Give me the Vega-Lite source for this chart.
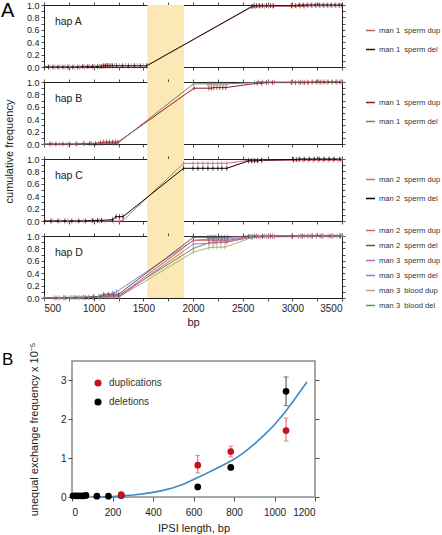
{
"$schema": "https://vega.github.io/schema/vega-lite/v6.json",
"background": "white",
"padding": {"left": 0, "top": 0, "right": 0, "bottom": 0},
"config": {
  "font": "Liberation Sans",
  "view": {"stroke": null},
  "axis": {"zindex": 1, "grid": false, "domain": false, "tickColor": "#222", "tickWidth": 0.8, "labelColor": "#222", "titleColor": "#222", "labelFont": "Liberation Sans", "titleFont": "Liberation Sans", "titleFontWeight": "normal"},
  "legend": {"labelFont": "Liberation Sans", "labelColor": "#333"},
  "title": {"font": "Liberation Sans", "fontWeight": "normal", "color": "#000"}
},
"datasets": {
  "hA": [
    {"s":"dup","x":505,"y":0},{"s":"dup","x":560,"y":0},{"s":"dup","x":610,"y":0},{"s":"dup","x":660,"y":0},{"s":"dup","x":710,"y":0},{"s":"dup","x":760,"y":0},{"s":"dup","x":810,"y":0},{"s":"dup","x":860,"y":0},{"s":"dup","x":910,"y":0},{"s":"dup","x":960,"y":0.01},{"s":"dup","x":1010,"y":0.01},{"s":"dup","x":1060,"y":0.01},{"s":"dup","x":1090,"y":0.01},{"s":"dup","x":1110,"y":0.01},{"s":"dup","x":1130,"y":0.02},{"s":"dup","x":1150,"y":0.02},{"s":"dup","x":1180,"y":0.02},{"s":"dup","x":1210,"y":0.02},{"s":"dup","x":1260,"y":0.02},{"s":"dup","x":1320,"y":0.02},{"s":"dup","x":1380,"y":0.02},{"s":"dup","x":1440,"y":0.02},{"s":"dup","x":1500,"y":0.02},{"s":"dup","x":1535,"y":0.02},{"s":"dup","x":2595,"y":0.97},{"s":"dup","x":2625,"y":0.97},{"s":"dup","x":2655,"y":0.98},{"s":"dup","x":2685,"y":0.98},{"s":"dup","x":2720,"y":0.98},{"s":"dup","x":2760,"y":0.98},{"s":"dup","x":2800,"y":0.98},{"s":"dup","x":3000,"y":0.98},{"s":"dup","x":3040,"y":0.98},{"s":"dup","x":3080,"y":0.98},{"s":"dup","x":3120,"y":0.98},{"s":"dup","x":3160,"y":0.99},{"s":"dup","x":3200,"y":0.99},{"s":"dup","x":3240,"y":0.99},{"s":"dup","x":3280,"y":0.99},{"s":"dup","x":3320,"y":0.99},{"s":"dup","x":3360,"y":0.99},{"s":"dup","x":3400,"y":0.99},{"s":"dup","x":3440,"y":0.99},{"s":"dup","x":3480,"y":0.99},
    {"s":"del","x":505,"y":0},{"s":"del","x":545,"y":0},{"s":"del","x":590,"y":0},{"s":"del","x":640,"y":0},{"s":"del","x":690,"y":0},{"s":"del","x":740,"y":0},{"s":"del","x":790,"y":0},{"s":"del","x":840,"y":0},{"s":"del","x":890,"y":0.01},{"s":"del","x":940,"y":0.01},{"s":"del","x":990,"y":0.01},{"s":"del","x":1040,"y":0.01},{"s":"del","x":1075,"y":0.01},{"s":"del","x":1100,"y":0.02},{"s":"del","x":1120,"y":0.02},{"s":"del","x":1140,"y":0.02},{"s":"del","x":1165,"y":0.02},{"s":"del","x":1190,"y":0.02},{"s":"del","x":1230,"y":0.02},{"s":"del","x":1290,"y":0.02},{"s":"del","x":1350,"y":0.02},{"s":"del","x":1410,"y":0.02},{"s":"del","x":1470,"y":0.02},{"s":"del","x":1535,"y":0.02},{"s":"del","x":2595,"y":0.98},{"s":"del","x":2615,"y":0.99},{"s":"del","x":2640,"y":0.99},{"s":"del","x":2670,"y":0.99},{"s":"del","x":2700,"y":0.99},{"s":"del","x":2740,"y":0.99},{"s":"del","x":2780,"y":0.99},{"s":"del","x":2810,"y":0.99},{"s":"del","x":2990,"y":0.99},{"s":"del","x":3030,"y":0.99},{"s":"del","x":3070,"y":1},{"s":"del","x":3110,"y":1},{"s":"del","x":3150,"y":1},{"s":"del","x":3190,"y":1},{"s":"del","x":3230,"y":1},{"s":"del","x":3270,"y":1},{"s":"del","x":3310,"y":1},{"s":"del","x":3350,"y":1},{"s":"del","x":3390,"y":1},{"s":"del","x":3430,"y":1},{"s":"del","x":3470,"y":1},{"s":"del","x":3500,"y":1}
  ],
  "hB": [
    {"s":"dup","x":505,"y":0},{"s":"dup","x":560,"y":0},{"s":"dup","x":620,"y":0},{"s":"dup","x":690,"y":0},{"s":"dup","x":760,"y":0},{"s":"dup","x":830,"y":0},{"s":"dup","x":900,"y":0.01},{"s":"dup","x":960,"y":0.01},{"s":"dup","x":1020,"y":0.01},{"s":"dup","x":1070,"y":0.02},{"s":"dup","x":1100,"y":0.03},{"s":"dup","x":1130,"y":0.03},{"s":"dup","x":1160,"y":0.03},{"s":"dup","x":1190,"y":0.03},{"s":"dup","x":1220,"y":0.03},{"s":"dup","x":1245,"y":0.03},{"s":"dup","x":2010,"y":0.9},{"s":"dup","x":2160,"y":0.9},{"s":"dup","x":2185,"y":0.9},{"s":"dup","x":2210,"y":0.91},{"s":"dup","x":2240,"y":0.91},{"s":"dup","x":2270,"y":0.91},{"s":"dup","x":2300,"y":0.91},{"s":"dup","x":2330,"y":0.91},{"s":"dup","x":2645,"y":0.98},{"s":"dup","x":2690,"y":0.98},{"s":"dup","x":2740,"y":0.99},{"s":"dup","x":2800,"y":0.99},{"s":"dup","x":2990,"y":0.99},{"s":"dup","x":3030,"y":0.99},{"s":"dup","x":3080,"y":0.99},{"s":"dup","x":3120,"y":0.99},{"s":"dup","x":3160,"y":0.99},{"s":"dup","x":3200,"y":1},{"s":"dup","x":3240,"y":1},{"s":"dup","x":3280,"y":1},{"s":"dup","x":3320,"y":1},{"s":"dup","x":3360,"y":1},{"s":"dup","x":3400,"y":1},{"s":"dup","x":3440,"y":1},{"s":"dup","x":3480,"y":1},
    {"s":"del","x":505,"y":0},{"s":"del","x":580,"y":0},{"s":"del","x":660,"y":0},{"s":"del","x":740,"y":0},{"s":"del","x":820,"y":0},{"s":"del","x":900,"y":0},{"s":"del","x":980,"y":0.01},{"s":"del","x":1050,"y":0.01},{"s":"del","x":1100,"y":0.01},{"s":"del","x":1150,"y":0.01},{"s":"del","x":1200,"y":0.01},{"s":"del","x":1240,"y":0.01},{"s":"del","x":2005,"y":0.97},{"s":"del","x":2150,"y":0.97},{"s":"del","x":2170,"y":0.97},{"s":"del","x":2190,"y":0.97},{"s":"del","x":2220,"y":0.97},{"s":"del","x":2250,"y":0.97},{"s":"del","x":2280,"y":0.97},{"s":"del","x":2310,"y":0.97},{"s":"del","x":2340,"y":0.97},{"s":"del","x":2620,"y":0.99},{"s":"del","x":2660,"y":1},{"s":"del","x":2700,"y":1},{"s":"del","x":2760,"y":1},{"s":"del","x":2820,"y":1},{"s":"del","x":3000,"y":1},{"s":"del","x":3060,"y":1},{"s":"del","x":3100,"y":1},{"s":"del","x":3150,"y":1},{"s":"del","x":3200,"y":1},{"s":"del","x":3260,"y":1},{"s":"del","x":3300,"y":1},{"s":"del","x":3350,"y":1},{"s":"del","x":3400,"y":1},{"s":"del","x":3450,"y":1},{"s":"del","x":3500,"y":1}
  ],
  "hC": [
    {"s":"dup","x":505,"y":0},{"s":"dup","x":580,"y":0},{"s":"dup","x":660,"y":0},{"s":"dup","x":740,"y":0},{"s":"dup","x":820,"y":0},{"s":"dup","x":900,"y":0},{"s":"dup","x":980,"y":0},{"s":"dup","x":1060,"y":0},{"s":"dup","x":1120,"y":0},{"s":"dup","x":1200,"y":0},{"s":"dup","x":1255,"y":0},{"s":"dup","x":1295,"y":0.01},{"s":"dup","x":1905,"y":0.93},{"s":"dup","x":2000,"y":0.93},{"s":"dup","x":2050,"y":0.93},{"s":"dup","x":2100,"y":0.93},{"s":"dup","x":2150,"y":0.93},{"s":"dup","x":2200,"y":0.93},{"s":"dup","x":2250,"y":0.93},{"s":"dup","x":2290,"y":0.93},{"s":"dup","x":2340,"y":0.93},{"s":"dup","x":2560,"y":0.98},{"s":"dup","x":2600,"y":0.98},{"s":"dup","x":2650,"y":0.98},{"s":"dup","x":2700,"y":0.98},{"s":"dup","x":3010,"y":0.98},{"s":"dup","x":3060,"y":0.98},{"s":"dup","x":3110,"y":0.98},{"s":"dup","x":3160,"y":0.98},{"s":"dup","x":3210,"y":0.98},{"s":"dup","x":3260,"y":0.98},{"s":"dup","x":3310,"y":0.98},{"s":"dup","x":3360,"y":0.98},{"s":"dup","x":3410,"y":0.98},{"s":"dup","x":3460,"y":0.98},{"s":"dup","x":3500,"y":0.98},
    {"s":"del","x":505,"y":0},{"s":"del","x":570,"y":0},{"s":"del","x":640,"y":0},{"s":"del","x":710,"y":0},{"s":"del","x":780,"y":0},{"s":"del","x":850,"y":0},{"s":"del","x":920,"y":0},{"s":"del","x":990,"y":0.01},{"s":"del","x":1040,"y":0.01},{"s":"del","x":1080,"y":0.01},{"s":"del","x":1190,"y":0.02},{"s":"del","x":1225,"y":0.07},{"s":"del","x":1260,"y":0.07},{"s":"del","x":1295,"y":0.07},{"s":"del","x":1905,"y":0.85},{"s":"del","x":2000,"y":0.85},{"s":"del","x":2050,"y":0.85},{"s":"del","x":2100,"y":0.85},{"s":"del","x":2150,"y":0.85},{"s":"del","x":2200,"y":0.85},{"s":"del","x":2250,"y":0.85},{"s":"del","x":2290,"y":0.85},{"s":"del","x":2340,"y":0.85},{"s":"del","x":2560,"y":0.97},{"s":"del","x":2590,"y":0.97},{"s":"del","x":2620,"y":0.97},{"s":"del","x":2650,"y":0.97},{"s":"del","x":2690,"y":0.98},{"s":"del","x":3010,"y":0.99},{"s":"del","x":3040,"y":0.99},{"s":"del","x":3070,"y":1},{"s":"del","x":3120,"y":1},{"s":"del","x":3170,"y":1},{"s":"del","x":3220,"y":1},{"s":"del","x":3270,"y":1},{"s":"del","x":3320,"y":1},{"s":"del","x":3370,"y":1},{"s":"del","x":3420,"y":1},{"s":"del","x":3480,"y":1}
  ],
  "hD": [
    {"s":"m3bdup","x":505,"y":0},{"s":"m3bdup","x":700,"y":0},{"s":"m3bdup","x":850,"y":0},{"s":"m3bdup","x":950,"y":0.01},{"s":"m3bdup","x":1050,"y":0.01},{"s":"m3bdup","x":1120,"y":0.01},{"s":"m3bdup","x":1180,"y":0.02},{"s":"m3bdup","x":1260,"y":0.02},{"s":"m3bdup","x":2004,"y":0.74},{"s":"m3bdup","x":2160,"y":0.81},{"s":"m3bdup","x":2200,"y":0.82},{"s":"m3bdup","x":2240,"y":0.82},{"s":"m3bdup","x":2280,"y":0.82},{"s":"m3bdup","x":2320,"y":0.82},{"s":"m3bdup","x":2600,"y":0.98},{"s":"m3bdup","x":2680,"y":0.98},{"s":"m3bdup","x":2760,"y":0.99},{"s":"m3bdup","x":3000,"y":0.99},{"s":"m3bdup","x":3100,"y":0.99},{"s":"m3bdup","x":3200,"y":1},{"s":"m3bdup","x":3300,"y":1},{"s":"m3bdup","x":3400,"y":1},{"s":"m3bdup","x":3500,"y":1},
    {"s":"m3bdel","x":505,"y":0},{"s":"m3bdel","x":700,"y":0},{"s":"m3bdel","x":850,"y":0.01},{"s":"m3bdel","x":950,"y":0.01},{"s":"m3bdel","x":1050,"y":0.02},{"s":"m3bdel","x":1120,"y":0.03},{"s":"m3bdel","x":1180,"y":0.04},{"s":"m3bdel","x":1250,"y":0.04},{"s":"m3bdel","x":2004,"y":0.8},{"s":"m3bdel","x":2160,"y":0.89},{"s":"m3bdel","x":2220,"y":0.9},{"s":"m3bdel","x":2280,"y":0.9},{"s":"m3bdel","x":2340,"y":0.9},{"s":"m3bdel","x":2600,"y":0.99},{"s":"m3bdel","x":2700,"y":0.99},{"s":"m3bdel","x":2800,"y":1},{"s":"m3bdel","x":3000,"y":1},{"s":"m3bdel","x":3150,"y":1},{"s":"m3bdel","x":3300,"y":1},{"s":"m3bdel","x":3450,"y":1},
    {"s":"m3dup","x":505,"y":0},{"s":"m3dup","x":640,"y":0},{"s":"m3dup","x":760,"y":0.01},{"s":"m3dup","x":880,"y":0.01},{"s":"m3dup","x":1000,"y":0.01},{"s":"m3dup","x":1080,"y":0.02},{"s":"m3dup","x":1140,"y":0.02},{"s":"m3dup","x":1200,"y":0.02},{"s":"m3dup","x":1260,"y":0.02},{"s":"m3dup","x":2004,"y":0.87},{"s":"m3dup","x":2160,"y":0.88},{"s":"m3dup","x":2200,"y":0.89},{"s":"m3dup","x":2240,"y":0.89},{"s":"m3dup","x":2280,"y":0.9},{"s":"m3dup","x":2320,"y":0.9},{"s":"m3dup","x":2590,"y":0.98},{"s":"m3dup","x":2660,"y":0.99},{"s":"m3dup","x":2740,"y":0.99},{"s":"m3dup","x":2800,"y":0.99},{"s":"m3dup","x":3000,"y":0.99},{"s":"m3dup","x":3080,"y":1},{"s":"m3dup","x":3160,"y":1},{"s":"m3dup","x":3240,"y":1},{"s":"m3dup","x":3320,"y":1},{"s":"m3dup","x":3400,"y":1},{"s":"m3dup","x":3480,"y":1},
    {"s":"m3del","x":505,"y":0},{"s":"m3del","x":660,"y":0},{"s":"m3del","x":780,"y":0.01},{"s":"m3del","x":900,"y":0.01},{"s":"m3del","x":1000,"y":0.02},{"s":"m3del","x":1080,"y":0.03},{"s":"m3del","x":1140,"y":0.05},{"s":"m3del","x":1190,"y":0.08},{"s":"m3del","x":1230,"y":0.1},{"s":"m3del","x":2004,"y":0.93},{"s":"m3del","x":2160,"y":0.95},{"s":"m3del","x":2200,"y":0.95},{"s":"m3del","x":2250,"y":0.95},{"s":"m3del","x":2300,"y":0.95},{"s":"m3del","x":2340,"y":0.95},{"s":"m3del","x":2580,"y":0.99},{"s":"m3del","x":2640,"y":1},{"s":"m3del","x":2720,"y":1},{"s":"m3del","x":2800,"y":1},{"s":"m3del","x":3000,"y":1},{"s":"m3del","x":3100,"y":1},{"s":"m3del","x":3200,"y":1},{"s":"m3del","x":3300,"y":1},{"s":"m3del","x":3400,"y":1},{"s":"m3del","x":3500,"y":1},
    {"s":"m2dup","x":505,"y":0},{"s":"m2dup","x":600,"y":0},{"s":"m2dup","x":700,"y":0.01},{"s":"m2dup","x":800,"y":0.01},{"s":"m2dup","x":900,"y":0.01},{"s":"m2dup","x":990,"y":0.01},{"s":"m2dup","x":1060,"y":0.02},{"s":"m2dup","x":1110,"y":0.03},{"s":"m2dup","x":1160,"y":0.03},{"s":"m2dup","x":1210,"y":0.03},{"s":"m2dup","x":1255,"y":0.03},{"s":"m2dup","x":2004,"y":0.93},{"s":"m2dup","x":2160,"y":0.93},{"s":"m2dup","x":2200,"y":0.93},{"s":"m2dup","x":2240,"y":0.93},{"s":"m2dup","x":2280,"y":0.93},{"s":"m2dup","x":2320,"y":0.93},{"s":"m2dup","x":2350,"y":0.93},{"s":"m2dup","x":2590,"y":0.99},{"s":"m2dup","x":2640,"y":0.99},{"s":"m2dup","x":2700,"y":0.99},{"s":"m2dup","x":2760,"y":0.99},{"s":"m2dup","x":2820,"y":0.99},{"s":"m2dup","x":3000,"y":0.99},{"s":"m2dup","x":3060,"y":0.99},{"s":"m2dup","x":3120,"y":1},{"s":"m2dup","x":3180,"y":1},{"s":"m2dup","x":3240,"y":1},{"s":"m2dup","x":3300,"y":1},{"s":"m2dup","x":3360,"y":1},{"s":"m2dup","x":3420,"y":1},{"s":"m2dup","x":3480,"y":1},
    {"s":"m2del","x":505,"y":0},{"s":"m2del","x":620,"y":0},{"s":"m2del","x":720,"y":0},{"s":"m2del","x":820,"y":0.01},{"s":"m2del","x":920,"y":0.01},{"s":"m2del","x":1000,"y":0.02},{"s":"m2del","x":1070,"y":0.02},{"s":"m2del","x":1100,"y":0.06},{"s":"m2del","x":1150,"y":0.06},{"s":"m2del","x":1200,"y":0.06},{"s":"m2del","x":1250,"y":0.06},{"s":"m2del","x":2004,"y":0.98},{"s":"m2del","x":2150,"y":0.98},{"s":"m2del","x":2170,"y":0.98},{"s":"m2del","x":2190,"y":0.98},{"s":"m2del","x":2210,"y":0.98},{"s":"m2del","x":2230,"y":0.98},{"s":"m2del","x":2260,"y":0.98},{"s":"m2del","x":2290,"y":0.98},{"s":"m2del","x":2320,"y":0.98},{"s":"m2del","x":2350,"y":0.98},{"s":"m2del","x":2560,"y":1},{"s":"m2del","x":2620,"y":1},{"s":"m2del","x":2700,"y":1},{"s":"m2del","x":2780,"y":1},{"s":"m2del","x":3000,"y":1},{"s":"m2del","x":3100,"y":1},{"s":"m2del","x":3200,"y":1},{"s":"m2del","x":3280,"y":1},{"s":"m2del","x":3380,"y":1},{"s":"m2del","x":3480,"y":1}
  ],
  "ipsi": [
    {"type":"deletions","len":5,"f":0.03},{"type":"deletions","len":18,"f":0.03},{"type":"deletions","len":30,"f":0.03},{"type":"deletions","len":45,"f":0.03},{"type":"deletions","len":58,"f":0.03},{"type":"deletions","len":69,"f":0.04},{"type":"deletions","len":123,"f":0.02},{"type":"deletions","len":180,"f":0.02},{"type":"deletions","len":243,"f":0.04},{"type":"deletions","len":621,"f":0.26},{"type":"deletions","len":784,"f":0.76},{"type":"deletions","len":1057,"f":2.72,"lo":2.35,"hi":3.09},
    {"type":"duplications","len":243,"f":0.06},{"type":"duplications","len":621,"f":0.82,"lo":0.62,"hi":1.07},{"type":"duplications","len":784,"f":1.17,"lo":1.03,"hi":1.31},{"type":"duplications","len":1057,"f":1.71,"lo":1.44,"hi":2.03}
  ],
  "curve": [
    {"len":100,"f":0},{"len":150,"f":0},{"len":200,"f":0.01},{"len":250,"f":0.03},{"len":300,"f":0.05},{"len":350,"f":0.08},{"len":400,"f":0.12},{"len":450,"f":0.17},{"len":500,"f":0.24},{"len":550,"f":0.33},{"len":600,"f":0.45},{"len":650,"f":0.57},{"len":700,"f":0.7},{"len":750,"f":0.83},{"len":800,"f":0.97},{"len":850,"f":1.15},{"len":900,"f":1.36},{"len":950,"f":1.6},{"len":1000,"f":1.86},{"len":1050,"f":2.17},{"len":1100,"f":2.52},{"len":1160,"f":2.96}
  ]
},
"spacing": 13,
"resolve": {"scale": {"color": "independent"}, "legend": {"color": "independent"}},
"vconcat": [
 {"spacing": 0, "resolve": {"scale": {"color": "independent"}, "legend": {"color": "independent"}}, "hconcat": [
  {"width": 1, "height": 1, "data": {"values": [{}]}, "mark": {"type": "point", "opacity": 0, "size": 0, "strokeWidth": 0}},
  {"title": {"text": "A", "anchor": "start", "frame": "group", "fontSize": 20, "offset": -20, "dx": -43},
   "spacing": 15, "bounds": "flush",
   "resolve": {"scale": {"color": "independent"}, "legend": {"color": "independent"}},
   "vconcat": [
    {"width": 298, "height": 62, "view": {"stroke": "#222", "strokeWidth": 1},
     "resolve": {"axis": {"x": "independent", "y": "independent"}},
     "layer": [
      {"data": {"values": [{"lab": "hap A"}]}, "mark": {"type": "rect", "color": "#fbe8b5", "clip": false},
       "encoding": {
        "x": {"datum": 1540, "type": "quantitative", "scale": {"domain": [500, 3500], "nice": false, "zero": false}, "axis": {"orient": "bottom", "values": [500,750,1000,1250,1500,1750,2000,2250,2500,2750,3000,3250,3500], "labels": false, "tickSize": 3, "title": null}},
        "x2": {"datum": 1910},
        "y": {"datum": 1, "type": "quantitative", "scale": {"domain": [0, 1], "nice": false}, "axis": {"orient": "left", "values": [0,0.1,0.2,0.3,0.4,0.5,0.6,0.7,0.8,0.9,1], "format": ".1f", "labelExpr": "round(datum.value*10) % 2 == 0 ? datum.label : ''", "labelOverlap": false, "labelFontSize": 9, "labelPadding": 2, "tickSize": 3, "title": null}},
        "y2": {"datum": -0.24}
       }},
      {"data": {"name": "hA"}, "mark": {"type": "line", "strokeWidth": 1},
       "encoding": {
        "x": {"field": "x", "type": "quantitative", "axis": {"orient": "top", "values": [500,750,1000,1250,1500,1750,2000,2250,2500,2750,3000,3250,3500], "labels": false, "tickSize": 3, "title": null}},
        "y": {"field": "y", "type": "quantitative", "axis": {"orient": "right", "values": [0,0.1,0.2,0.3,0.4,0.5,0.6,0.7,0.8,0.9,1], "labels": false, "tickSize": 3, "title": null}},
        "color": {"field": "s", "type": "nominal", "scale": {"domain": ["dup", "del"], "range": ["#c65b66", "#1a1a1a"]},
          "legend": {"orient": "none", "legendX": 321, "legendY": 20, "title": null, "symbolType": "stroke", "symbolSize": 81, "symbolStrokeWidth": 1.5, "labelFontSize": 7.6, "labelOffset": 3, "rowPadding": 9, "padding": 0,
            "labelExpr": "datum.label == 'dup' ? 'man 1\u00a0 sperm dup' : 'man 1\u00a0 sperm del'"}}
       }},
      {"data": {"name": "hA"}, "mark": {"type": "point", "shape": "M-0.4,0L0.4,0M0,-1L0,1", "size": 24, "filled": false, "strokeWidth": 0.7, "opacity": 1},
       "encoding": {"x": {"field": "x", "type": "quantitative", "axis": null}, "y": {"field": "y", "type": "quantitative", "axis": null}, "color": {"field": "s", "type": "nominal"}}},
      {"data": {"values": [{"lab": "hap A"}]}, "mark": {"type": "text", "align": "left", "baseline": "middle", "fontSize": 10.5, "color": "#222"},
       "encoding": {"x": {"datum": 610, "type": "quantitative", "axis": null}, "y": {"datum": 0.73, "type": "quantitative", "axis": null}, "text": {"field": "lab"}}}
     ]},
    {"width": 298, "height": 62, "view": {"stroke": "#222", "strokeWidth": 1},
     "resolve": {"axis": {"x": "independent", "y": "independent"}},
     "layer": [
      {"data": {"values": [{"lab": "hap B"}]}, "mark": {"type": "rect", "color": "#fbe8b5", "clip": false},
       "encoding": {
        "x": {"datum": 1540, "type": "quantitative", "scale": {"domain": [500, 3500], "nice": false, "zero": false}, "axis": {"orient": "bottom", "values": [500,750,1000,1250,1500,1750,2000,2250,2500,2750,3000,3250,3500], "labels": false, "tickSize": 3, "title": null}},
        "x2": {"datum": 1910},
        "y": {"datum": 1, "type": "quantitative", "scale": {"domain": [0, 1], "nice": false}, "axis": {"orient": "left", "values": [0,0.1,0.2,0.3,0.4,0.5,0.6,0.7,0.8,0.9,1], "format": ".1f", "labelExpr": "round(datum.value*10) % 2 == 0 ? datum.label : ''", "labelOverlap": false, "labelFontSize": 9, "labelPadding": 2, "tickSize": 3, "title": "cumulative frequency", "titleFontSize": 11, "titlePadding": 12, "titleY": 69}},
        "y2": {"datum": -0.24}
       }},
      {"data": {"name": "hB"}, "mark": {"type": "line", "strokeWidth": 1},
       "encoding": {
        "x": {"field": "x", "type": "quantitative", "axis": {"orient": "top", "values": [500,750,1000,1250,1500,1750,2000,2250,2500,2750,3000,3250,3500], "labels": false, "tickSize": 3, "title": null}},
        "y": {"field": "y", "type": "quantitative", "axis": {"orient": "right", "values": [0,0.1,0.2,0.3,0.4,0.5,0.6,0.7,0.8,0.9,1], "labels": false, "tickSize": 3, "title": null}},
        "color": {"field": "s", "type": "nominal", "scale": {"domain": ["dup", "del"], "range": ["#9b1422", "#7a7a7a"]},
          "legend": {"orient": "none", "legendX": 321, "legendY": 15, "title": null, "symbolType": "stroke", "symbolSize": 81, "symbolStrokeWidth": 1.5, "labelFontSize": 7.6, "labelOffset": 3, "rowPadding": 9, "padding": 0,
            "labelExpr": "datum.label == 'dup' ? 'man 1\u00a0 sperm dup' : 'man 1\u00a0 sperm del'"}}
       }},
      {"data": {"name": "hB"}, "mark": {"type": "point", "shape": "M-0.4,0L0.4,0M0,-1L0,1", "size": 24, "filled": false, "strokeWidth": 0.7, "opacity": 1},
       "encoding": {"x": {"field": "x", "type": "quantitative", "axis": null}, "y": {"field": "y", "type": "quantitative", "axis": null}, "color": {"field": "s", "type": "nominal"}}},
      {"data": {"values": [{"lab": "hap B"}]}, "mark": {"type": "text", "align": "left", "baseline": "middle", "fontSize": 10.5, "color": "#222"},
       "encoding": {"x": {"datum": 610, "type": "quantitative", "axis": null}, "y": {"datum": 0.73, "type": "quantitative", "axis": null}, "text": {"field": "lab"}}}
     ]},
    {"width": 298, "height": 62, "view": {"stroke": "#222", "strokeWidth": 1},
     "resolve": {"axis": {"x": "independent", "y": "independent"}},
     "layer": [
      {"data": {"values": [{"lab": "hap C"}]}, "mark": {"type": "rect", "color": "#fbe8b5", "clip": false},
       "encoding": {
        "x": {"datum": 1540, "type": "quantitative", "scale": {"domain": [500, 3500], "nice": false, "zero": false}, "axis": {"orient": "bottom", "values": [500,750,1000,1250,1500,1750,2000,2250,2500,2750,3000,3250,3500], "labels": false, "tickSize": 3, "title": null}},
        "x2": {"datum": 1910},
        "y": {"datum": 1, "type": "quantitative", "scale": {"domain": [0, 1], "nice": false}, "axis": {"orient": "left", "values": [0,0.1,0.2,0.3,0.4,0.5,0.6,0.7,0.8,0.9,1], "format": ".1f", "labelExpr": "round(datum.value*10) % 2 == 0 ? datum.label : ''", "labelOverlap": false, "labelFontSize": 9, "labelPadding": 2, "tickSize": 3, "title": null}},
        "y2": {"datum": -0.24}
       }},
      {"data": {"name": "hC"}, "mark": {"type": "line", "strokeWidth": 1},
       "encoding": {
        "x": {"field": "x", "type": "quantitative", "axis": {"orient": "top", "values": [500,750,1000,1250,1500,1750,2000,2250,2500,2750,3000,3250,3500], "labels": false, "tickSize": 3, "title": null}},
        "y": {"field": "y", "type": "quantitative", "axis": {"orient": "right", "values": [0,0.1,0.2,0.3,0.4,0.5,0.6,0.7,0.8,0.9,1], "labels": false, "tickSize": 3, "title": null}},
        "color": {"field": "s", "type": "nominal", "scale": {"domain": ["dup", "del"], "range": ["#dc6a78", "#000000"]},
          "legend": {"orient": "none", "legendX": 321, "legendY": 15, "title": null, "symbolType": "stroke", "symbolSize": 81, "symbolStrokeWidth": 1.5, "labelFontSize": 7.6, "labelOffset": 3, "rowPadding": 9, "padding": 0,
            "labelExpr": "datum.label == 'dup' ? 'man 2\u00a0 sperm dup' : 'man 2\u00a0 sperm del'"}}
       }},
      {"data": {"name": "hC"}, "mark": {"type": "point", "shape": "M-0.4,0L0.4,0M0,-1L0,1", "size": 24, "filled": false, "strokeWidth": 0.7, "opacity": 1},
       "encoding": {"x": {"field": "x", "type": "quantitative", "axis": null}, "y": {"field": "y", "type": "quantitative", "axis": null}, "color": {"field": "s", "type": "nominal"}}},
      {"data": {"values": [{"lab": "hap C"}]}, "mark": {"type": "text", "align": "left", "baseline": "middle", "fontSize": 10.5, "color": "#222"},
       "encoding": {"x": {"datum": 610, "type": "quantitative", "axis": null}, "y": {"datum": 0.73, "type": "quantitative", "axis": null}, "text": {"field": "lab"}}}
     ]},
    {"width": 298, "height": 62, "view": {"stroke": "#222", "strokeWidth": 1},
     "resolve": {"axis": {"x": "independent", "y": "independent"}},
     "layer": [
      {"data": {"values": [{"lab": "hap D"}]}, "mark": {"type": "rect", "color": "#fbe8b5", "clip": false},
       "encoding": {
        "x": {"datum": 1540, "type": "quantitative", "scale": {"domain": [500, 3500], "nice": false, "zero": false}, "axis": {"orient": "bottom", "values": [500,750,1000,1250,1500,1750,2000,2250,2500,2750,3000,3250,3500], "format": "d", "labelExpr": "datum.value % 500 == 0 ? datum.label : ''", "labelOverlap": false, "labelFontSize": 10, "labelPadding": 2, "tickSize": 3, "title": "bp", "titleFontSize": 11, "titlePadding": 3}},
        "x2": {"datum": 1910},
        "y": {"datum": 1, "type": "quantitative", "scale": {"domain": [0, 1], "nice": false}, "axis": {"orient": "left", "values": [0,0.1,0.2,0.3,0.4,0.5,0.6,0.7,0.8,0.9,1], "format": ".1f", "labelExpr": "round(datum.value*10) % 2 == 0 ? datum.label : ''", "labelOverlap": false, "labelFontSize": 9, "labelPadding": 2, "tickSize": 3, "title": null}},
        "y2": {"datum": 0}
       }},
      {"data": {"name": "hD"}, "mark": {"type": "line", "strokeWidth": 1},
       "encoding": {
        "x": {"field": "x", "type": "quantitative", "axis": {"orient": "top", "values": [500,750,1000,1250,1500,1750,2000,2250,2500,2750,3000,3250,3500], "labels": false, "tickSize": 3, "title": null}},
        "y": {"field": "y", "type": "quantitative", "axis": {"orient": "right", "values": [0,0.1,0.2,0.3,0.4,0.5,0.6,0.7,0.8,0.9,1], "labels": false, "tickSize": 3, "title": null}},
        "color": {"field": "s", "type": "nominal", "scale": {"domain": ["m2dup", "m2del", "m3dup", "m3del", "m3bdup", "m3bdel"], "range": ["#d0606e", "#555555", "#c467ae", "#8585c8", "#b3ab78", "#55937a"]},
          "legend": {"orient": "none", "legendX": 321, "legendY": -11, "title": null, "symbolType": "stroke", "symbolSize": 81, "symbolStrokeWidth": 1.5, "labelFontSize": 7.6, "labelOffset": 3, "rowPadding": 5, "padding": 0,
            "labelExpr": "datum.label == 'm2dup' ? 'man 2\u00a0 sperm dup' : datum.label == 'm2del' ? 'man 2\u00a0 sperm del' : datum.label == 'm3dup' ? 'man 3\u00a0 sperm dup' : datum.label == 'm3del' ? 'man 3\u00a0 sperm del' : datum.label == 'm3bdup' ? 'man 3\u00a0 blood dup' : 'man 3\u00a0 blood del'"}}
       }},
      {"data": {"name": "hD"}, "mark": {"type": "point", "shape": "M-0.4,0L0.4,0M0,-1L0,1", "size": 24, "filled": false, "strokeWidth": 0.7, "opacity": 1},
       "encoding": {"x": {"field": "x", "type": "quantitative", "axis": null}, "y": {"field": "y", "type": "quantitative", "axis": null}, "color": {"field": "s", "type": "nominal"}}},
      {"data": {"values": [{"lab": "hap D"}]}, "mark": {"type": "text", "align": "left", "baseline": "middle", "fontSize": 10.5, "color": "#222"},
       "encoding": {"x": {"datum": 610, "type": "quantitative", "axis": null}, "y": {"datum": 0.73, "type": "quantitative", "axis": null}, "text": {"field": "lab"}}}
     ]}
   ]}
 ]},
 {"spacing": 0, "resolve": {"scale": {"color": "independent"}, "legend": {"color": "independent"}}, "hconcat": [
  {"width": 1, "height": 1, "data": {"values": [{}]}, "mark": {"type": "point", "opacity": 0, "size": 0, "strokeWidth": 0}},
  {"width": 243, "height": 136, "view": {"stroke": "#8a8a8a", "strokeWidth": 1.5},
   "title": {"text": "B", "anchor": "start", "frame": "group", "fontSize": 17, "offset": -27, "dx": -70},
   "resolve": {"axis": {"x": "independent", "y": "independent"}},
   "layer": [
    {"data": {"name": "curve"}, "mark": {"type": "line", "color": "#3c89c4", "strokeWidth": 1.6},
     "encoding": {
      "x": {"field": "len", "type": "quantitative", "scale": {"domain": [0, 1200], "nice": false}, "axis": {"orient": "bottom", "values": [0,200,400,600,800,1000,1200], "format": "d", "title": "IPSI length, bp", "tickSize": 4, "labelFontSize": 10, "labelPadding": 6, "titleFontSize": 11, "titlePadding": 5}},
      "y": {"field": "f", "type": "quantitative", "scale": {"domain": [0, 3.5], "nice": false}, "axis": {"orient": "left", "values": [0,1,2,3], "title": "unequal exchange frequency x 10\u207b\u2075", "tickSize": 4, "labelFontSize": 10, "labelPadding": 2, "titleFontSize": 11, "titlePadding": 21}}
     }},
    {"data": {"name": "ipsi"}, "transform": [{"filter": "datum.type == 'duplications' && isValid(datum.lo)"}],
     "mark": {"type": "errorbar", "ticks": true, "color": "#d0606a", "thickness": 1},
     "encoding": {"x": {"field": "len", "type": "quantitative", "axis": null}, "y": {"field": "lo", "type": "quantitative", "axis": null}, "y2": {"field": "hi"}}},
    {"data": {"name": "ipsi"}, "transform": [{"filter": "datum.type == 'deletions' && isValid(datum.lo)"}],
     "mark": {"type": "errorbar", "ticks": true, "color": "#444444", "thickness": 1},
     "encoding": {"x": {"field": "len", "type": "quantitative", "axis": null}, "y": {"field": "lo", "type": "quantitative", "axis": null}, "y2": {"field": "hi"}}},
    {"data": {"name": "ipsi"}, "mark": {"type": "point", "filled": true, "size": 45, "opacity": 1},
     "encoding": {
      "x": {"field": "len", "type": "quantitative", "axis": null},
      "y": {"field": "f", "type": "quantitative", "axis": {"orient": "right", "values": [0,1,2,3], "labels": false, "tickSize": 4, "title": null}},
      "color": {"field": "type", "type": "nominal", "scale": {"domain": ["duplications", "deletions"], "range": ["#c3141e", "#000000"]},
        "legend": {"orient": "none", "legendX": 21, "legendY": 17, "title": null, "symbolType": "circle", "symbolSize": 50, "labelFontSize": 10, "labelOffset": 6, "rowPadding": 9, "padding": 0}}
     }}
   ]}
 ]}
]
}
